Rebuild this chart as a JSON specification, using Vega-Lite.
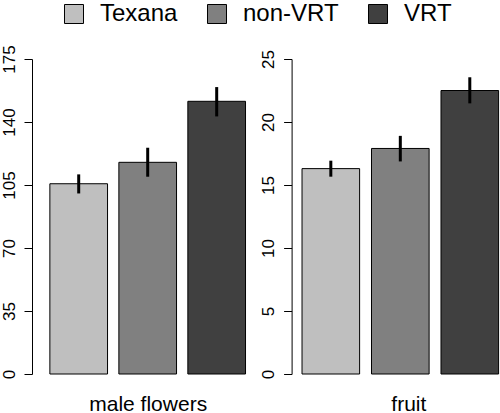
{
  "$schema": "https://vega.github.io/schema/vega-lite/v6.json",
  "padding": {"top": 2, "left": 0, "right": 0, "bottom": 0},
  "background": "white",
  "config": {
    "font": "Liberation Sans",
    "view": {"stroke": null},
    "axis": {"labelColor": "black", "titleColor": "black", "domainColor": "black", "tickColor": "black", "grid": false}
  },
  "datasets": {
    "male": [
      {"group": "Texana", "mean": 105.7, "lo": 100.3, "hi": 110.9},
      {"group": "non-VRT", "mean": 117.6, "lo": 109.6, "hi": 125.7},
      {"group": "VRT", "mean": 151.5, "lo": 143.1, "hi": 159.4}
    ],
    "fruit": [
      {"group": "Texana", "mean": 16.3, "lo": 15.66, "hi": 16.93},
      {"group": "non-VRT", "mean": 17.9, "lo": 16.87, "hi": 18.9},
      {"group": "VRT", "mean": 22.5, "lo": 21.48, "hi": 23.55}
    ]
  },
  "bounds": "flush",
  "spacing": 27.6,
  "resolve": {"scale": {"y": "independent", "x": "independent"}},
  "hconcat": [
    {
      "width": 231.4,
      "height": 315,
      "data": {"name": "male"},
      "layer": [
        {
          "mark": {"type": "bar", "stroke": "black", "strokeWidth": 1},
          "encoding": {
            "x": {"field": "group", "type": "nominal", "sort": ["Texana", "non-VRT", "VRT"],
              "scale": {"paddingInner": 0.164, "paddingOuter": 0.259, "align": 0.5},
              "axis": {"labels": false, "ticks": false, "domain": false, "title": "male flowers", "titleFontSize": 21, "titleFontWeight": "normal", "titlePadding": 19}},
            "y": {"field": "mean", "type": "quantitative", "scale": {"domain": [0, 175], "nice": false},
              "axis": {"title": null, "values": [0, 35, 70, 105, 140, 175], "labelFontSize": 17, "labelAngle": -90, "labelAlign": "center", "labelBaseline": "alphabetic", "labelPadding": 10, "tickSize": 8, "tickWidth": 1, "domainWidth": 1}},
            "color": {"field": "group", "type": "nominal",
              "scale": {"domain": ["Texana", "non-VRT", "VRT"], "range": ["#BFBFBF", "#808080", "#404040"]},
              "legend": {"title": null, "orient": "none", "legendX": 30, "legendY": -57, "direction": "horizontal", "symbolType": "square", "symbolSize": 361, "symbolStrokeColor": "black", "symbolStrokeWidth": 1, "symbolOpacity": 1, "labelFontSize": 24, "labelColor": "black", "labelOffset": 14, "columnPadding": 27, "labelLimit": 0}}
          }
        },
        {
          "mark": {"type": "rule", "color": "black", "strokeWidth": 3},
          "encoding": {
            "x": {"field": "group", "type": "nominal", "sort": ["Texana", "non-VRT", "VRT"]},
            "y": {"field": "lo", "type": "quantitative"},
            "y2": {"field": "hi"}
          }
        }
      ]
    },
    {
      "width": 207.7,
      "height": 315,
      "data": {"name": "fruit"},
      "layer": [
        {
          "mark": {"type": "bar", "stroke": "black", "strokeWidth": 1},
          "encoding": {
            "x": {"field": "group", "type": "nominal", "sort": ["Texana", "non-VRT", "VRT"],
              "scale": {"paddingInner": 0.171, "paddingOuter": 0.08, "align": 0.937},
              "axis": {"labels": false, "ticks": false, "domain": false, "title": "fruit", "titleFontSize": 21, "titleFontWeight": "normal", "titlePadding": 19, "titleX": 116.7}},
            "y": {"field": "mean", "type": "quantitative", "scale": {"domain": [0, 25], "nice": false},
              "axis": {"title": null, "values": [0, 5, 10, 15, 20, 25], "labelFontSize": 17, "labelAngle": -90, "labelAlign": "center", "labelBaseline": "alphabetic", "labelPadding": 10, "tickSize": 8, "tickWidth": 1, "domainWidth": 1}},
            "color": {"field": "group", "type": "nominal",
              "scale": {"domain": ["Texana", "non-VRT", "VRT"], "range": ["#BFBFBF", "#808080", "#404040"]},
              "legend": {"title": null, "orient": "none", "legendX": 30, "legendY": -57, "direction": "horizontal", "symbolType": "square", "symbolSize": 361, "symbolStrokeColor": "black", "symbolStrokeWidth": 1, "symbolOpacity": 1, "labelFontSize": 24, "labelColor": "black", "labelOffset": 14, "columnPadding": 27, "labelLimit": 0}}
          }
        },
        {
          "mark": {"type": "rule", "color": "black", "strokeWidth": 3},
          "encoding": {
            "x": {"field": "group", "type": "nominal", "sort": ["Texana", "non-VRT", "VRT"]},
            "y": {"field": "lo", "type": "quantitative"},
            "y2": {"field": "hi"}
          }
        }
      ]
    }
  ]
}
